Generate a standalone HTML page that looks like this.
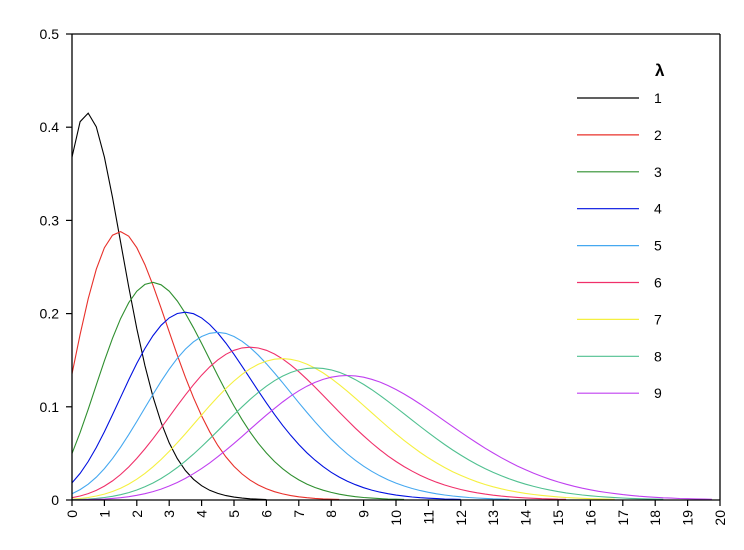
<!DOCTYPE html>
<html><head><meta charset="utf-8"><style>
body{margin:0;background:#fff}
svg{display:block;font-family:"Liberation Sans",sans-serif}
</style></head><body>
<svg id="s" width="744" height="550" xmlns="http://www.w3.org/2000/svg">
<rect width="744" height="550" fill="#fff"/>
<g id="curves" fill="none" stroke-width="1.1"></g>
<g stroke="#000" stroke-width="1.3" fill="none">
<line x1="72" y1="34" x2="720" y2="34"/>
<line x1="72" y1="34" x2="72" y2="500"/>
<line x1="720" y1="34" x2="720" y2="500"/>
<line x1="72" y1="500" x2="720" y2="500"/>
</g>
<g id="ticks" stroke="#000" stroke-width="1.2"></g>
<g id="labels" font-size="14" fill="#000"></g>
<text x="655" y="76" font-size="17" font-weight="bold">λ</text>
<g id="legend" font-size="14"></g>
</svg>
<script>
var ns="http://www.w3.org/2000/svg";
function el(t,a,p,txt){var e=document.createElementNS(ns,t);for(var k in a)e.setAttribute(k,a[k]);if(txt!==undefined)e.textContent=txt;p.appendChild(e);return e;}
function X(x){return 72+x*32.4;}
function Y(v){return 500-v*932;}
var g=[0.99999999999980993,676.5203681218851,-1259.1392167224028,771.32342877765313,-176.61502916214059,12.507343278686905,-0.13857109526572012,9.9843695780195716e-6,1.5056327351493116e-7];
function gamma(z){if(z<0.5)return Math.PI/(Math.sin(Math.PI*z)*gamma(1-z));z-=1;var x=g[0];for(var i=1;i<9;i++)x+=g[i]/(z+i);var t=z+7.5;return Math.sqrt(2*Math.PI)*Math.pow(t,z+0.5)*Math.exp(-t)*x;}
var cols=["#000000","#e8302a","#2f8f2f","#0010e0","#45a8f0","#f0306a","#f5f040","#50c090","#c040f0"];
var C=document.getElementById("curves"),T=document.getElementById("ticks"),L=document.getElementById("labels"),G=document.getElementById("legend");
for(var l=1;l<=9;l++){var pts=[];for(var x=0;x<=20.001;x+=0.25){var v=Math.pow(l,x)*Math.exp(-l)/gamma(x+1);pts.push(X(x).toFixed(1)+","+Y(v).toFixed(1));if(x>l&&v<0.0008)break;}
el("polyline",{points:pts.join(" "),stroke:cols[l-1]},C);
var ly=98+(l-1)*36.9;el("line",{x1:577,y1:ly,x2:639,y2:ly,stroke:cols[l-1],"stroke-width":1.2},G);
el("text",{x:654,y:ly+5},G,String(l));}
for(var i=0;i<=5;i++){var y=Y(i/10);el("line",{x1:66,y1:y,x2:72,y2:y},T);el("text",{x:59,y:y+5,"text-anchor":"end"},L,i==0?"0":(i/10).toFixed(1));}
for(var i=0;i<=20;i++){var x=X(i);el("line",{x1:x,y1:500,x2:x,y2:506},T);el("text",{x:0,y:0,"text-anchor":"end",transform:"translate("+(x+5)+",510) rotate(-90)"},L,String(i));}
</script>
</body></html>
